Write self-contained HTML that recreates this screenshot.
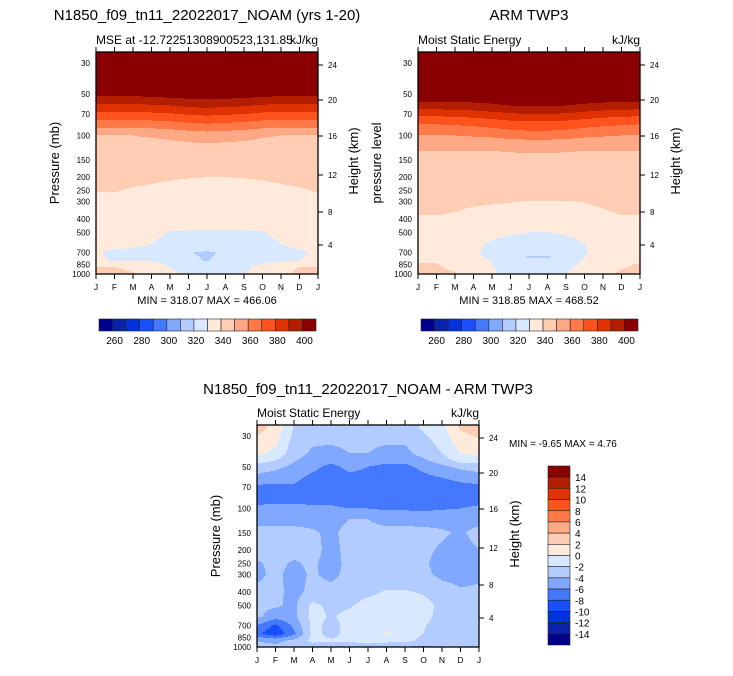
<!DOCTYPE html>
<html><head><meta charset="utf-8"><style>
body{margin:0;background:#fff;width:733px;height:671px;overflow:hidden;font-family:"Liberation Sans",sans-serif}
svg text{font-family:"Liberation Sans",sans-serif}
</style></head><body>
<svg id="svg" width="733" height="671" xmlns="http://www.w3.org/2000/svg"></svg>
<script>
const months=["J","F","M","A","M","J","J","A","S","O","N","D","J"];
const pTicks=[30,50,70,100,150,200,250,300,400,500,700,850,1000];
const hTicks=[24,20,16,12,8,4];
const hOffsets=[13,48,84,123,160,193];
const colors=["#00008a","#0a22aa","#0033dd","#1a4fff","#4478ff","#80a8ff","#b3ccff","#d8e8ff","#ffeadb","#ffcdb3","#ffa885","#ff7a48","#ff531e","#e03200","#b31e00","#8a0000"];
const mseLevels=[260,270,280,290,300,310,320,330,340,350,360,370,380,390,400];
const mseLabels=[260,280,300,320,340,360,380,400];
const diffLevels=[-14,-12,-10,-8,-6,-4,-2,0,2,4,6,8,10,12,14];
const diffLabels=[14,12,10,8,6,4,2,0,-2,-4,-6,-8,-10,-12,-14];

const modelP=[25,45,50,60,70,80,100,120,150,200,250,300,400,500,600,700,800,900,1000];
const modelV=[
[470,470,470,470,470,470,470,470,470,470,470,470,470],
[428,428,428,428,428,428,428,428,428,428,428,428,428],
[403,403,403,404,405,406,406,406,405,404,403,403,403],
[389,389,389,390,391,393,394,393,392,390,389,389,389],
[377,377,377,378,379,381,382,381,380,378,377,377,377],
[367,367,367,368,369,371,372,371,370,368,367,367,367],
[350,350,350,351,352,354,355,354,353,351,350,350,350],
[346,346,346,346.5,347,347.5,348,347.5,347,346.5,346,346,346],
[344,344,344,344,343.5,343.5,343.5,343.5,343.5,343.5,344,344,344],
[342,342,341.5,341,340.5,340.2,340,340,340.2,340.5,341,341.5,342],
[340.3,340.3,339.5,339,338.5,338,338,338,338,338.5,339,339.5,340.3],
[338.5,338.5,337.5,337,336.5,336,336,336,336,336.5,337,337.5,338.5],
[336,336,335,334,333,332.5,332.5,332.5,332.5,333,334,335,336],
[334,334,332,331,329.8,329.5,329.5,329.5,329.5,329.8,331,332.5,334],
[332,331.5,330.5,330,329,328.5,328,328.5,329,329,330,331,332],
[330.5,329,329.5,329.5,328,320.5,318.5,321.5,326,328,329,329.5,330.5],
[331,329.5,329,329.5,328,322,319.5,323,327,328,329,330,331],
[341.5,340.5,338,334,330,328,327,328,329,332,337,340.5,341.5],
[344,343,341,337,331,329.5,329,329.5,329.8,333,338,342,344]];

const obsP=[25,45,50,60,70,80,100,120,150,200,250,300,400,500,600,700,750,850,1000];
const obsV=[
[470,470,470,470,470,470,470,470,470,470,470,470,470],
[425,425,425,425,425,425,425,425,425,425,425,425,425],
[408,408,408,408,409,410,410,410,410,409,408,408,408],
[397,397,397,398,399,401,402,402,401,399,398,397,397],
[383,383,384,385,387,389,390,390,389,387,385,384,383],
[372,372,373,374,376,378,379,379,378,376,374,373,372],
[360,360,360,361,362,364,365,365,364,362,361,360,360],
[351,351,351,351,351,351.5,352,352,351.5,351,351,351,351],
[348,348,348,348,348,348,348,348,348,348,348,348,348],
[346,346,346,346,346,346,346,346,346,346,346,346,346],
[344,344,344,343.5,343.5,343,343,343,343,343.5,343.5,344,344],
[342,342,341.5,340.8,340.5,340.2,339.8,339.8,339.8,340.2,341,342,342],
[339.5,339.5,339,338,337.5,337,337,337,337,337.5,338.5,339.5,339.5],
[336,336,335,333,331,330.3,330,330,330.2,331,333,335,336],
[335,335,334,331,329.5,329,329,329,329.3,330,332,334,335],
[336,336,334,330.5,329,327,324,324,327,329.5,332,335,336],
[337,337,335,331,329,326,318.5,318.5,325,330,333,336,337],
[340.5,340.5,337,334,330,328,327,327,328,331,336,339,340.5],
[342,342,341,336,331,328,328,328,330,334,339,341,342]];

const diffP=[25,30,40,45,50,60,70,85,100,120,150,200,250,300,400,500,600,700,800,900,1000];
const diffV=[
[3,1.5,-2,-3,-3,-3,-3,-3,-3,-1.5,-0.5,2.5,3],
[2,0.8,-2.5,-3.5,-3.5,-3.5,-3.5,-3.5,-3.5,-2.3,-1,1.5,2.2],
[0.5,-0.5,-3.2,-4.3,-4.5,-4,-4,-4.5,-4.5,-3.3,-2,0,0.5],
[-1,-2,-3.8,-5,-5.5,-4.5,-5,-5.5,-5.5,-4.3,-3,-1.2,-1],
[-3,-3.5,-4.5,-5.5,-6.5,-5.5,-6,-6.5,-6.5,-5.5,-4.5,-3.5,-3],
[-4.5,-5,-5.5,-6.5,-7,-6.5,-6.5,-7,-7,-6.5,-6,-5.5,-5],
[-6.5,-6.5,-6.3,-7,-7.5,-7.3,-7.5,-7.5,-7.5,-7.3,-7,-6.5,-6.5],
[-7,-7,-7,-7,-7,-7.5,-7.5,-7.5,-7.5,-7.5,-7.3,-7,-7],
[-5.5,-5,-5,-5.5,-5.5,-6,-6,-6.3,-6.3,-6.5,-6.2,-6,-5.5],
[-4.5,-4.5,-4.5,-4.5,-4.5,-4,-4,-4.5,-4.5,-4.5,-4.5,-4.5,-4.5],
[-3.5,-3.5,-3.5,-3.8,-4.3,-3.5,-3.5,-3.5,-3.5,-3.6,-3.8,-4.2,-3.5],
[-3.5,-3.5,-3.5,-3.5,-4.5,-3.5,-3.5,-3.5,-3.5,-3.7,-4.2,-4.6,-4],
[-4.2,-3.6,-4.2,-3.7,-4.7,-3.5,-3.5,-3.5,-3.5,-3.8,-4.5,-4.7,-4.3],
[-4.3,-3.7,-4.5,-3.8,-4.4,-3.5,-3.5,-3.5,-3.5,-3.6,-4.4,-4.6,-4.3],
[-3.7,-3.5,-4.6,-3.5,-3.5,-3.3,-2.5,-1.8,-1.8,-2.2,-3.2,-3.8,-3.7],
[-3.8,-3.7,-4.5,-1.5,-2.5,-2.2,-1.2,-1,-1,-1.3,-2.5,-3.5,-3.6],
[-3.5,-5,-4.5,-1.3,-2.2,-1.5,-1.2,-1,-0.5,-1.2,-2.8,-3.5,-3.5],
[-6,-8.5,-5.5,-1.5,-2.5,-1.5,-1.2,-0.8,-1,-1.8,-3.2,-3.5,-3.5],
[-7.5,-9.5,-6.5,-1.5,-2.5,-1.5,-1.2,0.3,-1,-2,-3.2,-3.5,-3.5],
[-4,-4.5,-3.5,-1.5,-1.8,-1.5,-1.3,-1.3,-1.5,-2.5,-3.5,-3.5,-3.5],
[-3.5,-3.5,-3.5,-3.3,-3.5,-3.5,-3.5,-3.8,-4,-4.5,-3.8,-3.5,-3.5]];

const NS="http://www.w3.org/2000/svg";
const svg=document.getElementById("svg");
function mk(tag,attrs,parent){const e=document.createElementNS(NS,tag);for(const k in attrs)e.setAttribute(k,attrs[k]);(parent||svg).appendChild(e);return e;}
function txt(s,x,y,size,anchor,parent,rot){const t=mk("text",{x:x,y:y,"font-size":size,"text-anchor":anchor||"middle",fill:"#000"},parent);if(rot)t.setAttribute("transform","rotate(-90 "+x+" "+y+")");t.textContent=s;return t;}
function colorIdx(v,levels){let i=0;while(i<levels.length&&v>=levels[i])i++;return i;}

function field(P,V,m,lnp){
  const lp=P.map(Math.log);
  let k=0;
  if(lnp<=lp[0])k=0;else if(lnp>=lp[lp.length-1])k=lp.length-2;else{while(lp[k+1]<lnp)k++;}
  let t=(lnp-lp[k])/(lp[k+1]-lp[k]);t=Math.max(0,Math.min(1,t));
  let j=Math.min(11,Math.floor(m));let s=m-j;
  const a=V[k][j]*(1-s)+V[k][j+1]*s, b=V[k+1][j]*(1-s)+V[k+1][j+1]*s;
  return a*(1-t)+b*t;
}

function panel(o){
  const g=mk("g",{},svg);
  
  
  const W=222,H=222,x0=o.x,y0=o.y;
  const yOf=p=>y0+11+(Math.log(p)-Math.log(30))*60.2;
  const xOf=m=>x0+m*W/12;
  const lnTop=Math.log(30)-11/60.2;
  const cg=mk("g",{"shape-rendering":"crispEdges"},g);
  
  
  for(let r=0;r<H;r++){
    const lnp=lnTop+(r+0.5)/60.2;
    let start=0,cur=-1;
    for(let c=0;c<=W;c++){
      let ci=-1;
      if(c<W){const v=field(o.P,o.V,(c+0.5)/W*12,lnp);ci=colorIdx(v,o.levels);}
      if(ci!==cur){
        if(cur>=0){const rc=mk("rect",{x:x0+start,y:y0+r,width:c-start,height:1.2,fill:colors[cur]},cg);
          
          }
        cur=ci;start=c;
      }
    }
  }
  const fr=mk("rect",{x:x0,y:y0,width:W,height:H,fill:"none",stroke:"#000","stroke-width":1.3},g);
  
  
  months.forEach((mn,i)=>{
    const x=xOf(i);
    mk("line",{x1:x,y1:y0,x2:x,y2:y0-5,stroke:"#000","stroke-width":1},g);
    mk("line",{x1:x,y1:y0+H,x2:x,y2:y0+H+5,stroke:"#000","stroke-width":1},g);
    const t=txt(mn,x,y0+H+16,8.5,"middle",g);
    
    
  });
  pTicks.forEach(p=>{
    const t=txt(String(p),x0-6,yOf(p)+3,8,"end",g);
    
    
  });
  hTicks.forEach((h,i)=>{
    const y=y0+hOffsets[i];
    mk("line",{x1:x0+W,y1:y,x2:x0+W+5,y2:y,stroke:"#000","stroke-width":1},g);
    const t=txt(String(h),x0+W+10,y+3,8,"start",g);
    
    
  });
  const yl=txt(o.ylab,x0-37,y0+H/2,13,"middle",g,true);
  
  
  const hl=txt("Height (km)",x0+W+40,y0+H/2-2,13,"middle",g,true);
  
  
  const ti=txt(o.title,o.tx,o.ty,15,"middle",g);
  
  
  const sl=txt(o.left,x0,y0-8,12,"start",g);
  
  
  const sr=txt("kJ/kg",x0+W,y0-8,12,"end",g);
  
  
  if(o.minmax){const mm=txt(o.minmax,x0+W/2,y0+H+30,11,"middle",g);
    
    }
}

function hbar(x,y){
  const g=mk("g",{},svg);
  
  
  const bw=217/16;
  colors.forEach((c,i)=>{const r=mk("rect",{x:x+i*bw,y:y,width:bw,height:12,fill:c,stroke:"#222","stroke-width":0.6},g);
    
    });
  mseLabels.forEach((v,i)=>{const t=txt(String(v),x+bw*(1+2*i)+2,y+25,10,"middle",g);
    
    });
}

panel({name:"model-panel",x:96,y:52,P:modelP,V:modelV,levels:mseLevels,ylab:"Pressure (mb)",title:"N1850_f09_tn11_22022017_NOAM (yrs 1-20)",tx:207,ty:20,left:"MSE at -12.72251308900523,131.85",minmax:"MIN = 318.07 MAX = 466.06"});
panel({name:"obs-panel",x:418,y:52,P:obsP,V:obsV,levels:mseLevels,ylab:"pressure level",title:"ARM TWP3",tx:529,ty:20,left:"Moist Static Energy",minmax:"MIN = 318.85 MAX = 468.52"});
panel({name:"diff-panel",x:257,y:425,P:diffP,V:diffV,levels:diffLevels,ylab:"Pressure (mb)",title:"N1850_f09_tn11_22022017_NOAM - ARM TWP3",tx:368,ty:394,left:"Moist Static Energy"});
hbar(99,319);hbar(421,319);

const vg=mk("g",{},svg);


const bh=179/16;
colors.slice().reverse().forEach((c,i)=>{const r=mk("rect",{x:548,y:466+i*bh,width:22,height:bh,fill:c,stroke:"#222","stroke-width":0.6},vg);
  
  });
diffLabels.forEach((v,i)=>{const t=txt(String(v),575,466+bh*(i+1)+4,10,"start",vg);
  
  });
const dm=txt("MIN =  -9.65 MAX =    4.76",509,447,10,"start");


</script>
</body></html>
